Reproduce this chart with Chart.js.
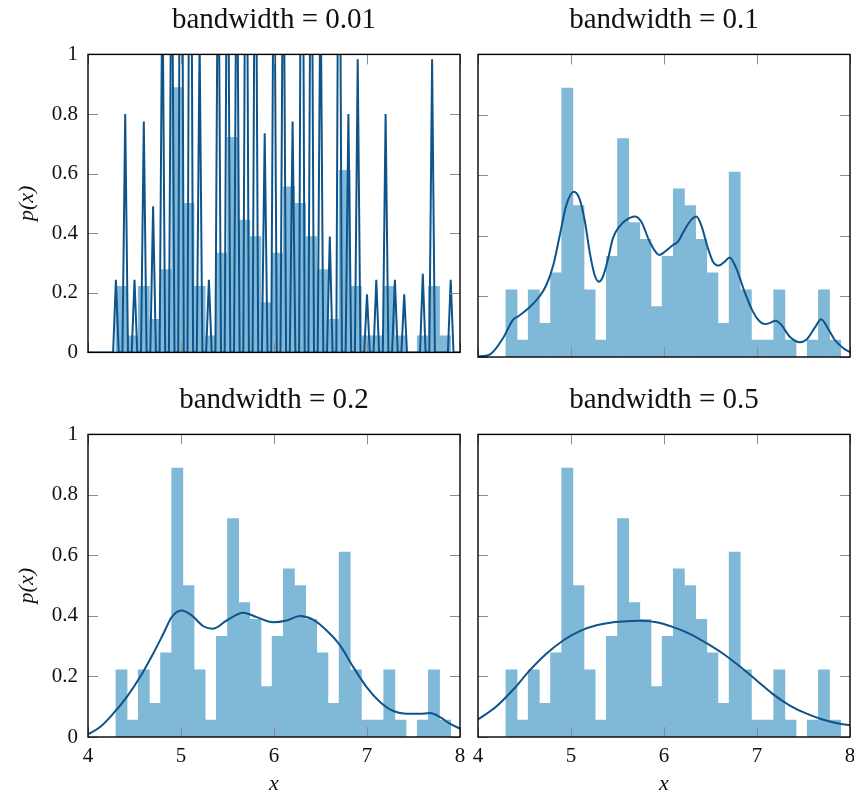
<!DOCTYPE html>
<html><head><meta charset="utf-8">
<script src="https://cdn.jsdelivr.net/npm/chart.js@4.4.1/dist/chart.umd.min.js"></script>
<style>
html,body{margin:0;padding:0;background:#fff;overflow:hidden;width:854px;height:795px;}
.p{position:absolute;}
</style></head><body>
<div class="p" style="left:0;top:0"><canvas id="k1" width="480" height="375"></canvas></div>
<div class="p" style="left:455px;top:0"><canvas id="k2" width="415" height="375"></canvas></div>
<div class="p" style="left:0;top:380px"><canvas id="k3" width="480" height="415"></canvas></div>
<div class="p" style="left:455px;top:380px"><canvas id="k4" width="415" height="415"></canvas></div>
<script>
// Histogram (density), 30 bins of width 0.12 from 4.3 to 7.9
const histCenters = [4.36,4.48,4.60,4.72,4.84,4.96,5.08,5.20,5.32,5.44,5.56,5.68,5.80,5.92,6.04,6.16,6.28,6.40,6.52,6.64,6.76,6.88,7.00,7.12,7.24,7.36,7.48,7.60,7.72,7.84];
const histDensity = [0.222,0.056,0.222,0.111,0.278,0.889,0.500,0.222,0.056,0.333,0.722,0.444,0.389,0.167,0.333,0.556,0.500,0.389,0.278,0.111,0.611,0.222,0.056,0.056,0.222,0.056,0,0.056,0.222,0.056];

// KDE, bandwidth = 0.01 (spikes; values above 1 are clipped)
const kde001X = [4.00,4.27,4.30,4.33,4.37,4.40,4.43,4.47,4.50,4.53,4.57,4.60,4.63,4.67,4.70,4.73,4.77,4.80,4.83,4.87,4.90,4.93,4.97,5.00,5.03,5.07,5.10,5.13,5.17,5.20,5.23,5.27,5.30,5.33,5.37,5.40,5.43,5.47,5.50,5.53,5.57,5.60,5.63,5.67,5.70,5.73,5.77,5.80,5.83,5.87,5.90,5.93,5.97,6.00,6.03,6.07,6.10,6.13,6.17,6.20,6.23,6.27,6.30,6.33,6.37,6.40,6.43,6.47,6.50,6.53,6.57,6.60,6.63,6.67,6.70,6.73,6.77,6.80,6.83,6.87,6.90,6.93,6.97,7.00,7.03,7.07,7.10,7.13,7.17,7.20,7.23,7.27,7.30,7.33,7.37,7.40,7.43,7.57,7.60,7.63,7.67,7.70,7.73,7.87,7.90,7.93,8.00];
const kde001Y = [0,0,0.244,0,0,0.80,0,0,0.244,0,0,0.775,0,0,0.49,0,0,1.3,0,0,1.6,0,0,2.6,0,0,2.4,0,0,1.05,0,0,0.244,0,0,1.6,0,0,1.85,0,0,1.6,0,0,2.1,0,0,1.85,0,0,0.735,0,0,1.6,0,0,1.6,0,0,0.775,0,0,2.4,0,0,1.85,0,0,1.3,0,0,0.389,0,0,2.1,0,0,0.80,0,0,0.984,0,0,0.195,0,0,0.244,0,0,0.80,0,0,0.244,0,0,0.195,0,0,0.264,0,0,0.984,0,0,0.244,0,0];

// KDE, bandwidth = 0.1
const kde01X = [4.00,4.125,4.27,4.376,4.43,4.54,4.66,4.735,4.81,4.88,4.95,5.03,5.09,5.15,5.20,5.254,5.30,5.344,5.40,5.45,5.52,5.595,5.685,5.756,5.846,5.95,6.008,6.097,6.15,6.22,6.293,6.347,6.40,6.473,6.527,6.59,6.652,6.705,6.777,6.866,6.956,7.027,7.08,7.136,7.20,7.26,7.35,7.458,7.53,7.62,7.69,7.76,7.835,7.925,8.00];
const kde01Y = [0.002,0.008,0.063,0.123,0.134,0.160,0.200,0.238,0.304,0.403,0.502,0.546,0.524,0.447,0.348,0.271,0.249,0.266,0.326,0.392,0.431,0.453,0.464,0.447,0.381,0.337,0.348,0.370,0.381,0.420,0.453,0.464,0.436,0.359,0.315,0.302,0.315,0.329,0.293,0.216,0.150,0.118,0.109,0.112,0.120,0.107,0.068,0.049,0.057,0.096,0.125,0.096,0.057,0.030,0.016];

// KDE, bandwidth = 0.2
const kde02X = [4.00,4.13,4.27,4.416,4.56,4.70,4.81,4.90,5.007,5.115,5.24,5.348,5.49,5.67,5.814,5.99,6.136,6.28,6.42,6.566,6.71,6.853,6.996,7.14,7.283,7.427,7.57,7.677,7.785,7.89,8.00];
const kde02Y = [0.009,0.033,0.077,0.132,0.198,0.275,0.341,0.396,0.418,0.402,0.366,0.358,0.385,0.411,0.396,0.379,0.385,0.400,0.388,0.352,0.303,0.231,0.165,0.116,0.086,0.077,0.077,0.079,0.066,0.044,0.028];

// KDE, bandwidth = 0.5
const kde05X = [4.00,4.197,4.377,4.556,4.735,4.915,5.094,5.274,5.453,5.632,5.74,5.92,6.10,6.277,6.457,6.636,6.816,6.996,7.175,7.354,7.534,7.713,7.892,8.00];
const kde05Y = [0.058,0.101,0.156,0.220,0.275,0.319,0.350,0.369,0.379,0.383,0.384,0.379,0.363,0.341,0.310,0.275,0.233,0.187,0.141,0.104,0.077,0.057,0.044,0.039];

const xTicks = [4,5,6,7,8];
const yTicks = [0,0.2,0.4,0.6,0.8,1];

const FONT = "'Liberation Serif', 'Times New Roman', serif";
const LINE = 'rgb(14,84,138)';
const BAR = 'rgb(128,184,216)';

const framePlugin = {
  id: 'frame',
  afterDraw(chart) {
    const {ctx, chartArea: a, scales: {x, y}} = chart;
    const L = 10;
    ctx.save();
    ctx.strokeStyle = '#8c8c8c';
    ctx.lineWidth = 1;
    ctx.beginPath();
    x.ticks.forEach(t => {
      const px = Math.round(x.getPixelForValue(t.value)) + 0.5;
      ctx.moveTo(px, a.bottom); ctx.lineTo(px, a.bottom - L);
      ctx.moveTo(px, a.top); ctx.lineTo(px, a.top + L);
    });
    y.ticks.forEach(t => {
      const py = Math.round(y.getPixelForValue(t.value)) + 0.5;
      ctx.moveTo(a.left, py); ctx.lineTo(a.left + L, py);
      ctx.moveTo(a.right, py); ctx.lineTo(a.right - L, py);
    });
    ctx.stroke();
    ctx.strokeStyle = '#000';
    ctx.lineWidth = 1.4;
    ctx.strokeRect(a.left, a.top, a.right - a.left, a.bottom - a.top);
    ctx.restore();
  }
};

function panel(id, title, kx, ky, showX, showY, smooth, xH, yW, padR) {
  const lineData = kx.map((v, i) => ({x: v, y: ky[i]}));
  const barData = histCenters.map((v, i) => ({x: v, y: histDensity[i]}));
  new Chart(document.getElementById(id), {
    type: 'bar',
    data: {
      datasets: [
        {type: 'line', data: lineData, borderColor: LINE, borderWidth: 2, pointRadius: 0,
         fill: false, tension: smooth ? 0.4 : 0, cubicInterpolationMode: smooth ? 'monotone' : 'default', order: 0},
        {type: 'bar', data: barData, backgroundColor: BAR, borderWidth: 0,
         barPercentage: 1, categoryPercentage: 1, order: 1}
      ]
    },
    options: {
      responsive: false,
      animation: false,
      events: [],
      layout: {padding: {left: 0, right: padR, top: 0, bottom: 0}},
      plugins: {
        legend: {display: false},
        tooltip: {enabled: false},
        title: {display: true, text: title, color: '#111', fullSize: false,
                font: {family: FONT, size: 29, weight: 'normal', lineHeight: 1.2},
                padding: {top: 3, bottom: 16.6}}
      },
      scales: {
        x: {
          type: 'linear', min: 4, max: 8, offset: false,
          grid: {display: false, drawTicks: false},
          border: {display: false},
          afterBuildTicks(s) { s.ticks = xTicks.map(v => ({value: v})); },
          ticks: {display: showX, padding: 7, color: '#111', maxRotation: 0, autoSkip: false,
                  font: {family: FONT, size: 21}, callback: v => String(v)},
          title: {display: showX, text: 'x', color: '#111',
                  font: {family: FONT, size: 22, style: 'italic', lineHeight: 0.95}, padding: {top: 0, bottom: 0}},
          afterFit(s) { s.height = xH; }
        },
        y: {
          min: 0, max: 1,
          grid: {display: false, drawTicks: false},
          border: {display: false},
          afterBuildTicks(s) { s.ticks = yTicks.map(v => ({value: v})); },
          ticks: {display: showY, padding: 10, color: '#111', autoSkip: false,
                  font: {family: FONT, size: 21}, callback: v => String(v)},
          title: {display: showY, text: 'p(x)', color: '#111',
                  font: {family: FONT, size: 22, style: 'italic'}, padding: {top: 14, bottom: 0}},
          afterFit(s) { s.width = yW; }
        }
      }
    },
    plugins: [framePlugin]
  });
}

panel('k1', 'bandwidth = 0.01', kde001X, kde001Y, false, true, false, 18, 88, 20);
panel('k2', 'bandwidth = 0.1', kde01X, kde01Y, false, false, true, 18, 23, 20);
panel('k3', 'bandwidth = 0.2', kde02X, kde02Y, true, true, true, 58, 88, 20);
panel('k4', 'bandwidth = 0.5', kde05X, kde05Y, true, false, true, 58, 23, 20);
</script>
</body></html>
